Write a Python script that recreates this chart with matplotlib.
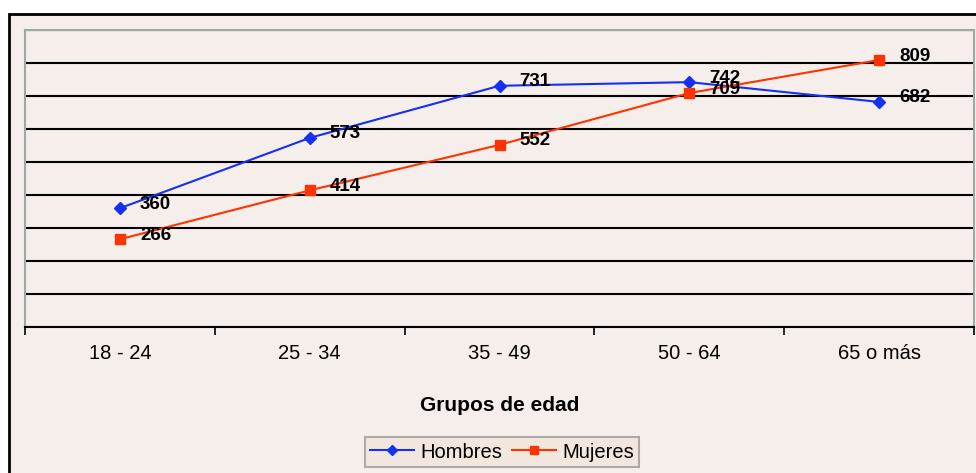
import matplotlib
matplotlib.use("Agg")
import matplotlib.pyplot as plt
from matplotlib.patches import Rectangle

plt.rcParams['font.family'] = ['Liberation Sans', 'DejaVu Sans']

categories = ["18 - 24", "25 - 34", "35 - 49", "50 - 64", "65 o más"]
hombres = [360, 573, 731, 742, 682]
mujeres = [266, 414, 552, 709, 809]

bg = "#F6EEEB"
blue = "#1430F0"
red = "#FF3300"

fig = plt.figure(figsize=(9.76, 4.73), dpi=100, facecolor="white")
W, H = 976, 473
# outer chart frame
fig.patches.append(Rectangle((9 / W, -0.05), (W + 20 - 9) / W, (H - 14) / H + 0.05,
                             transform=fig.transFigure, facecolor=bg,
                             edgecolor="black", linewidth=2, zorder=0))

ax = fig.add_axes([25 / W, (H - 327) / H, (974 - 25) / W, (327 - 30) / H])
ax.set_zorder(2)
ax.set_facecolor(bg)
x = list(range(len(categories)))
ax.plot(x, hombres, color=blue, marker="D", markersize=6, linewidth=1.5,
        label="Hombres", zorder=3)
ax.plot(x, mujeres, color=red, marker="s", markersize=6.5, linewidth=1.5,
        label="Mujeres", zorder=3)

for xi, v in zip(x, hombres):
    ax.annotate(str(v), (xi, v), xytext=(20, 4), textcoords="offset pixels",
                fontsize=13.5, fontweight="bold", va="center", ha="left", zorder=4)
for xi, v in zip(x, mujeres):
    ax.annotate(str(v), (xi, v), xytext=(20, 4), textcoords="offset pixels",
                fontsize=13.5, fontweight="bold", va="center", ha="left", zorder=4)

ax.set_xlim(-0.5, len(categories) - 0.5)
ax.set_ylim(0, 900)
ax.set_yticks(range(0, 901, 100))
ax.yaxis.grid(True, color="black", linewidth=1.5)
ax.set_axisbelow(True)
ax.tick_params(axis="y", left=False, labelleft=False)
ax.set_xticks(x)
ax.set_xticklabels(categories, fontsize=14.5)
ax.set_xticks([i + 0.5 for i in range(-1, len(categories))], minor=True)
ax.tick_params(axis="x", which="major", length=0, pad=12)
ax.tick_params(axis="x", which="minor", length=6, width=1.2, color="black")
for s in ["top", "right", "left"]:
    ax.spines[s].set_color("#9AABA5")
    ax.spines[s].set_linewidth(1.5)
ax.spines["bottom"].set_color("black")
ax.spines["bottom"].set_linewidth(1.5)

fig.text(499.5 / W, 1 - 405 / H, "Grupos de edad", fontsize=15, fontweight="bold",
         ha="center", va="center")

leg = ax.legend(loc="center", bbox_to_anchor=(502 / W, 1 - 452 / H),
                bbox_transform=fig.transFigure, ncol=2, frameon=True,
                fancybox=False, fontsize=14.5, handlelength=2.2,
                columnspacing=0.5, handletextpad=0.3, borderpad=0.25,
                borderaxespad=0, markerscale=0.9)
leg.get_frame().set_facecolor("#F2E6DC")
leg.get_frame().set_edgecolor("#999999")
leg.get_frame().set_linewidth(1.5)

fig.savefig("out.png", dpi=100, facecolor="white")
